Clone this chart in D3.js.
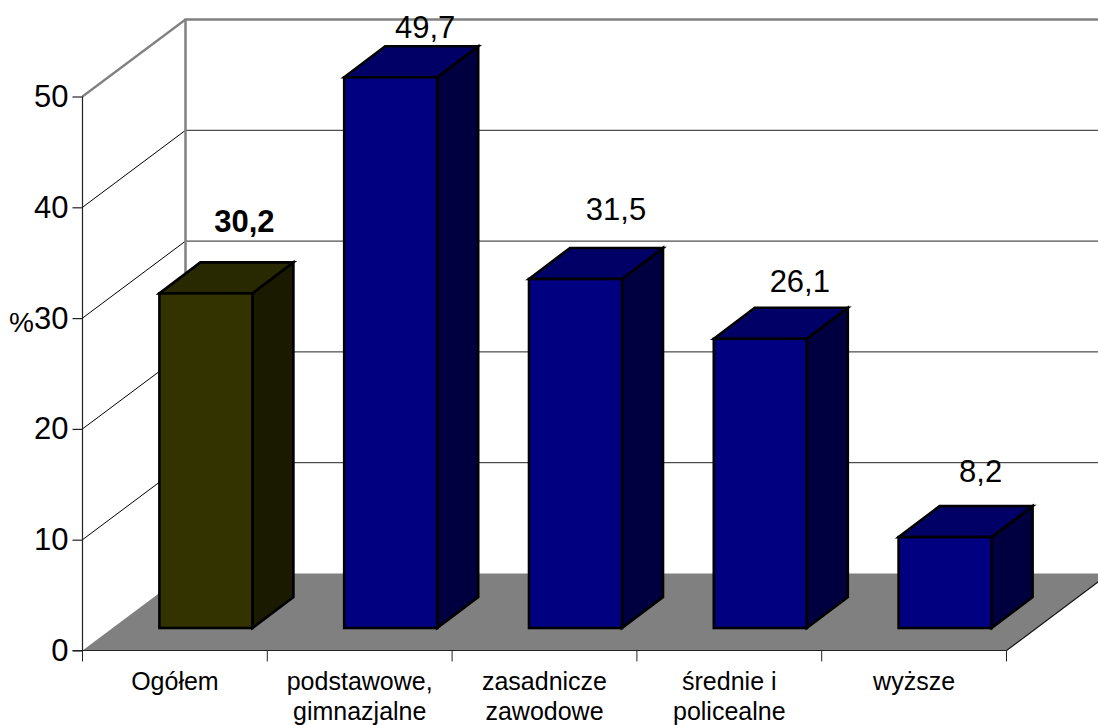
<!DOCTYPE html>
<html><head><meta charset="utf-8">
<script src="https://cdn.jsdelivr.net/npm/d3@7"></script>
<style>html,body{margin:0;padding:0;background:#fff}svg{display:block}text{font-family:"Liberation Sans",Arial,sans-serif;fill:#000}</style>
</head><body><svg width="1098" height="725"></svg>
<script>
const categories = [["Ogółem"],["podstawowe,","gimnazjalne"],["zasadnicze","zawodowe"],["średnie i","policealne"],["wyższe"]];
const values = [30.2,49.7,31.5,26.1,8.2];
const valueLabels = ["30,2","49,7","31,5","26,1","8,2"];
const fronts = ["#333300","#000080","#000080","#000080","#000080"];
const tops = ["#292900","#000066","#000066","#000066","#000066"];
const sides = ["#1a1a00","#000040","#000040","#000040","#000040"];
const labelLift = [30,8,28,16,24];
const labelShift = [18,14,20,19,15];
const yTicks = [0,10,20,30,40,50];

const svg = d3.select("svg");
const x = d3.scaleBand().domain(d3.range(categories.length)).range([82.5,1006.5]);
const y = d3.scaleLinear().domain([0,50]).range([650.5,96.5]);
const wallDx=103, wallDy=-77, barW=93, barDx=41, barDy=-31, offX=31, offY=-22.5;
const unit = y(0)-y(1);
const pts = a => a.map(p=>p.join(",")).join(" ");

// floor
svg.append("polygon").attr("fill","#808080")
  .attr("points",pts([[x.range()[0],y(0)],[x.range()[1],y(0)],[x.range()[1]+wallDx,y(0)+wallDy],[x.range()[0]+wallDx,y(0)+wallDy]]));
svg.append("line").attr("x1",x.range()[1]).attr("y1",y(0)).attr("x2",x.range()[1]+wallDx).attr("y2",y(0)+wallDy).attr("stroke","#111").attr("stroke-width",1.2);

// gridlines
yTicks.filter(t=>t>0).forEach(t=>{
  const top=t===50, c=top?"#808080":"#000", w=top?2.5:1;
  svg.append("line").attr("x1",x.range()[0]).attr("y1",y(t)).attr("x2",x.range()[0]+wallDx).attr("y2",y(t)+wallDy).attr("stroke",c).attr("stroke-width",top?2.2:1);
  svg.append("line").attr("x1",x.range()[0]+wallDx).attr("y1",y(t)+wallDy).attr("x2",1098).attr("y2",y(t)+wallDy).attr("stroke",top?c:"#222").attr("stroke-width",w);
});
svg.append("line").attr("x1",x.range()[0]+wallDx).attr("y1",y(50)+wallDy-1).attr("x2",x.range()[0]+wallDx).attr("y2",y(0)+wallDy).attr("stroke","#808080").attr("stroke-width",2.5);

// axes
const ax = svg.append("g").attr("transform",`translate(${x.range()[0]},0)`)
  .call(d3.axisLeft(y).tickValues(yTicks).tickSize(10).tickPadding(4));
ax.selectAll("path,line").attr("stroke","#222").attr("stroke-width",1.2);
ax.selectAll("text").attr("font-size",31).style("font-family",'"Liberation Sans"').attr("fill","#000");
ax.selectAll(".domain").attr("d",`M0,${y(50)}V${y(0)}`);

svg.append("line").attr("x1",x.range()[0]-10).attr("x2",x.range()[1]).attr("y1",y(0)).attr("y2",y(0)).attr("stroke","#222").attr("stroke-width",1.2);
d3.range(categories.length+1).forEach(i=>{
  const px=i<categories.length?x(i):x.range()[1];
  svg.append("line").attr("x1",px).attr("x2",px).attr("y1",y(0)).attr("y2",y(0)+11).attr("stroke","#222").attr("stroke-width",1);
});
categories.forEach((lines,i)=>{
  const t=svg.append("text").attr("text-anchor","middle").attr("font-size",25);
  lines.forEach((s,j)=>t.append("tspan").attr("x",x(i)+x.bandwidth()/2).attr("y",690+j*29.5).text(s));
});
svg.append("text").attr("x",9).attr("y",332).attr("font-size",28).text("%");

// bars
const g = svg.selectAll("g.bar").data(values).join("g").attr("class","bar");
const L = i=>x(i)+x.bandwidth()/2-barW/2+offX, B=y(0)+offY, T=d=>B-d*unit;
const st = s=>s.attr("stroke","#000").attr("stroke-width",2.6).attr("stroke-linejoin","miter");
g.append("polygon").attr("fill",(d,i)=>sides[i]).attr("points",(d,i)=>pts([[L(i)+barW,B],[L(i)+barW+barDx,B+barDy],[L(i)+barW+barDx,T(d)+barDy],[L(i)+barW,T(d)]])).call(st);
g.append("polygon").attr("fill",(d,i)=>tops[i]).attr("points",(d,i)=>pts([[L(i),T(d)],[L(i)+barDx,T(d)+barDy],[L(i)+barW+barDx,T(d)+barDy],[L(i)+barW,T(d)]])).call(st);
g.append("rect").attr("fill",(d,i)=>fronts[i]).attr("x",(d,i)=>L(i)).attr("y",d=>T(d)).attr("width",barW).attr("height",d=>B-T(d)).call(st);
g.append("text").attr("text-anchor","middle").attr("font-size",31)
  .attr("font-weight",(d,i)=>i===0?"bold":"normal")
  .attr("x",(d,i)=>L(i)+barW/2+barDx/2+labelShift[i])
  .attr("y",(d,i)=>T(d)+barDy-labelLift[i])
  .text((d,i)=>valueLabels[i]);
</script></body></html>
